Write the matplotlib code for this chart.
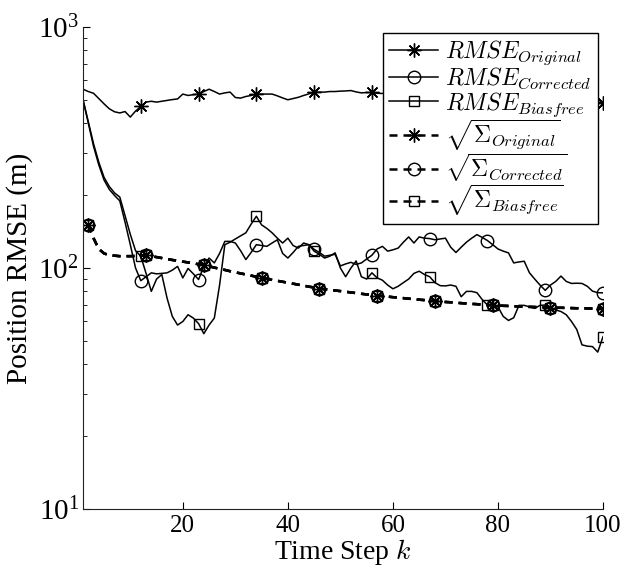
import matplotlib
matplotlib.use('Agg')
import matplotlib.pyplot as plt

# ---------------- data ----------------
k_rmse = list(range(1, 101))
k_sigma = list(range(2, 101))

rmse_original = [
    552, 540, 531, 505, 480, 458, 445, 440, 446, 423,
    448, 468, 488, 492, 488, 492, 496, 500, 503, 527,
    520, 524, 527, 540, 552, 540, 527, 533, 537, 510,
    507, 515, 520, 527, 527, 527, 527, 518, 508, 499,
    505, 511, 520, 528, 537, 537, 537, 540, 540, 542,
    543, 545, 538, 533, 535, 535, 531, 530, 538, 545,
    540, 532, 528, 535, 542, 548, 540, 530, 525, 533,
    540, 537, 530, 524, 528, 535, 540, 534, 526, 520,
    525, 532, 528, 520, 512, 518, 525, 520, 510, 505,
    512, 506, 498, 492, 500, 495, 488, 485, 490, 483]

rmse_corrected = [
    499, 400, 320, 268, 232, 212, 200, 190, 155, 125,
    100, 88.6, 92, 95.5, 94.6, 95, 95.5, 98, 101.6, 91,
    99.6, 94.6, 89.6, 101.6, 110, 105, 115, 129, 129, 127,
    118, 108.4, 116, 125, 124, 123, 127, 131, 115, 110,
    116, 123, 124, 125, 119.5, 116, 112, 113, 114, 102,
    104, 105.6, 103.5, 105, 109, 113, 120, 123, 117.5, 119,
    121, 128, 134.6, 127, 134.6, 133, 132.5, 131, 132, 133,
    122, 116, 122, 128, 133, 137.6, 134, 130, 125, 120,
    117.5, 115.6, 105, 106, 106.7, 95.5, 90, 85, 80.8, 85,
    88, 92.6, 88, 86.3, 86.5, 86.3, 84, 80.2, 79, 78.9]

rmse_biasfree = [
    499, 405, 328, 275, 238, 218, 205, 197, 165, 138,
    118, 112, 95, 80, 90, 94, 75, 63, 58, 60,
    64, 62, 58.8, 53.4, 58, 62, 85, 125, 128, 132,
    136, 140, 152, 164, 151, 146, 140, 133, 127, 133,
    124, 121, 127, 125, 117.5, 114, 110, 112, 115.6, 100,
    92, 100, 107, 92, 90, 95.5, 91, 89, 85, 82,
    84, 87, 90, 95, 97, 94, 92, 87, 84.5, 84.3,
    85, 84, 76, 80, 80, 79, 74, 70.2, 70, 69,
    63, 60.6, 62.2, 70, 70, 69, 68, 70, 70.2, 68,
    67, 66, 64, 60, 55.6, 48, 47.4, 47.2, 44.8, 51.9]

sigma_original = [
    151, 133, 120, 115, 113, 112.5, 112, 112, 112, 112.2,
    112.5, 112.8, 112, 111, 110, 109, 108, 107.2, 106.3, 105.5,
    104.6, 103.7, 102.8, 101.6, 100.4, 99.3, 98.2, 97, 96, 95,
    94, 93, 92, 91, 90.1, 89.3, 88.5, 87.7, 86.9, 86.1,
    85.3, 84.5, 83.7, 83, 82.2, 81.7, 81.2, 80.7, 80.2, 79.7,
    79.2, 78.7, 78.2, 77.7, 77.3, 76.9, 76.5, 76.1, 75.7, 75.3,
    75, 74.6, 74.3, 73.9, 73.6, 73.2, 72.9, 72.6, 72.3, 72.1,
    71.8, 71.5, 71.3, 71, 70.8, 70.5, 70.3, 70, 69.9, 69.7,
    69.6, 69.4, 69.3, 69.1, 69, 68.9, 68.7, 68.6, 68.5, 68.4,
    68.4, 68.3, 68.2, 68.1, 68.1, 68, 67.9, 67.9, 67.8]
sigma_corrected = list(sigma_original)
sigma_biasfree = list(sigma_original)

labels = [r'$RMSE_{Original}$', r'$RMSE_{Corrected}$', r'$RMSE_{Biasfree}$',
          r'$\sqrt{\Sigma_{Original}}$', r'$\sqrt{\Sigma_{Corrected}}$',
          r'$\sqrt{\Sigma_{Biasfree}}$']
xticks = [20, 40, 60, 80, 100]

# ---------------- style ----------------
plt.rcParams['font.family'] = ['Liberation Serif', 'DejaVu Serif']
plt.rcParams['mathtext.fontset'] = 'cm'

fig = plt.figure(figsize=(6.28, 5.69), dpi=100)
ax = fig.add_axes([0.1322, 0.1054, 0.8280, 0.8471])

star = (8, 2, 0)
solid_mk = slice(11, None, 11)
sig_mk = list(range(0, 99, 11)) + [98]

solid_kw = dict(color='k', lw=1.1, linestyle='-', markevery=solid_mk,
                mfc='none', mec='k', mew=1.0)
ax.plot(k_rmse, rmse_original, marker=star, ms=10, label=labels[0], **solid_kw)
ax.plot(k_rmse, rmse_corrected, marker='o', ms=9, label=labels[1], **solid_kw)
ax.plot(k_rmse, rmse_biasfree, marker='s', ms=7, label=labels[2], **solid_kw)

dash_kw = dict(color='k', lw=1.8, linestyle=(0, (3.2, 2.4)), markevery=sig_mk,
               mfc='none', mec='k', mew=1.0)
ax.plot(k_sigma, sigma_original, marker=star, ms=10, label=labels[3], **dash_kw)
ax.plot(k_sigma, sigma_corrected, marker='o', ms=9, label=labels[4], **dash_kw)
ax.plot(k_sigma, sigma_biasfree, marker='s', ms=7, label=labels[5], **dash_kw)

ax.set_yscale('log')
ax.set_ylim(10, 1000)
ax.set_xlim(1, 100)
ax.set_xticks(xticks)

for s in ['top', 'right']:
    ax.spines[s].set_visible(False)
for s in ['left', 'bottom']:
    ax.spines[s].set_linewidth(0.8)
    ax.spines[s].set_color('#222222')

ax.tick_params(axis='both', which='major', direction='in', length=5, width=0.8,
               top=False, right=False)
ax.tick_params(axis='both', which='minor', direction='in', length=3, width=0.6,
               top=False, right=False)
ax.tick_params(axis='x', labelsize=18, pad=4)
ax.tick_params(axis='y', labelsize=21, pad=3)

ax.set_xlabel(r'Time Step $k$', fontsize=20, labelpad=0)
ax.set_ylabel('Position RMSE (m)', fontsize=21, labelpad=4)

leg = ax.legend(loc='upper right', bbox_to_anchor=(0.990, 0.988), fontsize=17,
                frameon=True, fancybox=False, edgecolor='k', framealpha=1,
                handlelength=2.1, handletextpad=0.3, borderpad=0.25,
                labelspacing=-0.05, borderaxespad=0)
leg.get_frame().set_linewidth(1.0)

fig.savefig('out.png', dpi=100)
